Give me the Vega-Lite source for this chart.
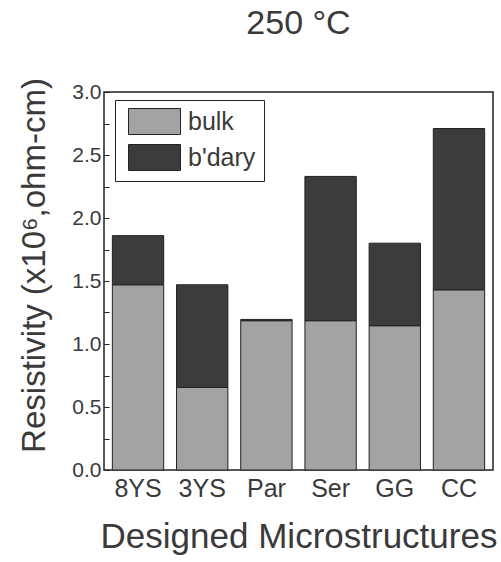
{
  "$schema": "https://vega.github.io/schema/vega-lite/v6.json",
  "width": 389,
  "height": 378,
  "autosize": {"type": "none"},
  "padding": {"left": 104, "top": 92, "right": 8, "bottom": 92},
  "background": "white",
  "title": {"text": "250 °C", "fontSize": 34, "font": "Liberation Sans", "fontWeight": "normal", "color": "#3a3a3a", "offset": 37, "anchor": "middle"},
  "config": {
    "view": {"stroke": "#222", "strokeWidth": 1.5},
    "font": "Liberation Sans"
  },
  "data": {
    "values": [
      {"micro": "8YS", "part": "bulk", "value": 1.47, "ord": 1},
      {"micro": "8YS", "part": "b'dary", "value": 0.39, "ord": 2},
      {"micro": "3YS", "part": "bulk", "value": 0.655, "ord": 1},
      {"micro": "3YS", "part": "b'dary", "value": 0.815, "ord": 2},
      {"micro": "Par", "part": "bulk", "value": 1.185, "ord": 1},
      {"micro": "Par", "part": "b'dary", "value": 0.01, "ord": 2},
      {"micro": "Ser", "part": "bulk", "value": 1.185, "ord": 1},
      {"micro": "Ser", "part": "b'dary", "value": 1.145, "ord": 2},
      {"micro": "GG", "part": "bulk", "value": 1.145, "ord": 1},
      {"micro": "GG", "part": "b'dary", "value": 0.655, "ord": 2},
      {"micro": "CC", "part": "bulk", "value": 1.43, "ord": 1},
      {"micro": "CC", "part": "b'dary", "value": 1.28, "ord": 2}
    ]
  },
  "mark": {"type": "bar", "stroke": "#222", "strokeWidth": 1},
  "encoding": {
    "x": {
      "field": "micro", "type": "nominal", "sort": null,
      "scale": {"paddingInner": 0.2, "paddingOuter": 0.13},
      "axis": {
        "title": "Designed Microstructures", "titleFontSize": 35, "titleFontWeight": "normal", "titleColor": "#3a3a3a",
        "titlePadding": 18,
        "labelAngle": 0, "labelFontSize": 25, "labelColor": "#3a3a3a", "labelPadding": 6,
        "ticks": false, "domain": false
      }
    },
    "y": {
      "field": "value", "type": "quantitative", "stack": "zero",
      "scale": {"domain": [0, 3], "nice": false},
      "axis": {
        "title": "Resistivity (x10⁶,ohm-cm)", "titleFontSize": 33, "titleFontWeight": "normal", "titleColor": "#3a3a3a",
        "titleAngle": -90, "titleX": -70, "titleY": 173, "titleAlign": "center", "titleBaseline": "middle",
        "values": [0, 0.25, 0.5, 0.75, 1, 1.25, 1.5, 1.75, 2, 2.25, 2.5, 2.75, 3],
        "labelExpr": "datum.value % 0.5 == 0 ? format(datum.value, '.1f') : ''",
        "labelFontSize": 21, "labelColor": "#3a3a3a", "labelPadding": 8,
        "tickSize": -5, "tickColor": "#222", "grid": false, "domain": false
      }
    },
    "color": {
      "field": "part", "type": "nominal",
      "scale": {"domain": ["bulk", "b'dary"], "range": ["#a3a3a3", "#3c3c3c"]},
      "legend": {
        "title": null, "orient": "none", "legendX": 11, "legendY": 8,
        "strokeColor": "#222", "padding": 8, "fillColor": "white",
        "symbolType": "M-0.615,-1L3.385,-1L3.385,1L-0.615,1Z", "symbolSize": 676,
        "symbolStrokeColor": "#222", "symbolStrokeWidth": 1,
        "labelFontSize": 25, "labelColor": "#3a3a3a", "labelOffset": 38,
        "rowPadding": 5
      }
    },
    "order": {"field": "ord", "type": "quantitative"}
  }
}
